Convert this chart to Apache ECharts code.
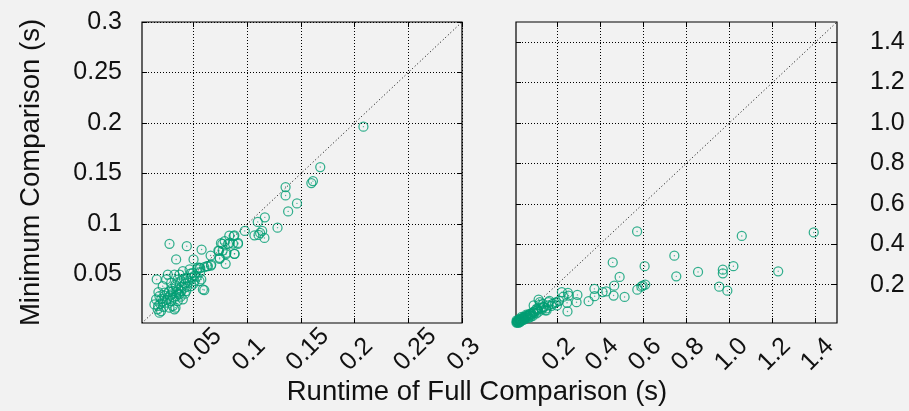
<!DOCTYPE html>
<html><head><meta charset="utf-8">
<script src="https://cdn.jsdelivr.net/npm/echarts@6/dist/echarts.min.js"></script>
<style>html,body{margin:0;padding:0;background:#f2f2f2}#c{width:909px;height:411px}</style>
</head><body><div id="c"></div>
<script>
// ---- data ----
const leftX = [0.2082,0.168,0.1612,0.1597,0.1357,0.1357,0.1463,0.1381,0.1164,0.1098,0.1282,0.1139,0.116,0.112,0.1067,0.1105,0.0977,0.088,0.0833,0.0914,0.0867,0.0821,0.0755,0.0737,0.0771,0.088,0.0802,0.0743,0.0799,0.0659,0.0662,0.0575,0.0437,0.0276,0.0338,0.05,0.06,0.0563,0.0535,0.06,0.0556,0.0157,0.0173,0.0322,0.0332,0.0136,0.0166,0.0182,0.079,0.0624,0.0369,
0.0245,0.0292,0.0338,0.0385,0.0432,0.0463,0.0494,0.054,0.0572,0.0587,0.0229,0.026,0.0213,0.0292,0.0338,0.0385,0.0416,0.0307,0.0353,0.0182,0.0307,0.0276,0.0198,0.0447,0.0509,0.04,0.0322,0.026,0.0213,0.0151,0.0369,0.0432,0.0478,0.0292,0.0245,0.04,0.0836,0.0874,0.0914,0.0883,0.0806,0.0556,0.0634,0.0665,0.0768,0.0731,0.0743,
0.019,0.022,0.025,0.028,0.031,0.034,0.036,0.039,0.042,0.045,0.048,0.051,0.027,0.03,0.033,0.036,0.041,0.044,0.047,0.023,0.017,0.02,0.035,0.038,0.042,0.053,0.056,0.05];
const leftY = [0.1964,0.1564,0.1425,0.1406,0.1366,0.1283,0.1204,0.1125,0.1066,0.1021,0.0964,0.0932,0.0862,0.0912,0.0888,0.0892,0.0932,0.0888,0.0885,0.0803,0.0806,0.0803,0.081,0.0734,0.0737,0.0705,0.0701,0.0655,0.0606,0.0688,0.0589,0.0747,0.078,0.0804,0.0649,0.0649,0.0573,0.0563,0.0553,0.0346,0.0434,0.0451,0.0326,0.0155,0.0172,0.0204,0.0155,0.0122,0.083,0.0582,0.05,
0.0451,0.0419,0.0385,0.0434,0.0468,0.055,0.0517,0.0567,0.0451,0.0352,0.032,0.027,0.0237,0.0237,0.0286,0.0336,0.0369,0.0336,0.0237,0.0286,0.0188,0.0172,0.0138,0.0419,0.0434,0.0533,0.05,0.05,0.0385,0.0254,0.0303,0.0336,0.0385,0.0303,0.0221,0.0254,0.0813,0.0879,0.0813,0.0705,0.0715,0.0567,0.0582,0.0599,0.0803,0.0737,0.0665,
0.021,0.018,0.025,0.029,0.027,0.033,0.035,0.038,0.041,0.044,0.047,0.049,0.033,0.036,0.04,0.031,0.046,0.038,0.051,0.029,0.019,0.026,0.045,0.028,0.031,0.048,0.052,0.041];

const rightX = [1.392,1.058,0.572,0.745,1.227,1.019,0.970,0.970,0.953,0.991,0.855,0.754,0.607,0.610,0.598,0.592,0.573,0.514,0.491,0.459,0.466,0.463,0.429,0.412,0.374,0.375,0.347,0.295,0.291,0.251,0.254,0.247,0.223,0.249,0.198,0.180,0.152,0.160,0.121,0.137,0.105,0.090,0.075,0.059,0.044,0.028,0.013,0.115,0.161,0.200,0.092,0.146,
0.012,0.014,0.016,0.018,0.02,0.022,0.025,0.027,0.03,0.032,0.035,0.038,0.04,0.043,0.047,0.05,0.055,0.06,0.065,0.07,0.075,0.08,0.085,0.09,0.095,0.1,0.11,0.115,0.125,0.13,0.14,0.15,0.017,0.021,0.024,0.028,0.033,0.036,0.045,0.052,0.058,0.068,0.078,0.088,0.105,0.12,0.135,0.165,0.175,0.19,0.21,0.23];
const rightY = [0.458,0.441,0.463,0.343,0.266,0.291,0.274,0.256,0.190,0.170,0.263,0.241,0.291,0.200,0.195,0.190,0.175,0.139,0.238,0.310,0.195,0.146,0.166,0.163,0.179,0.143,0.118,0.149,0.113,0.159,0.146,0.110,0.163,0.067,0.113,0.105,0.072,0.097,0.113,0.089,0.080,0.064,0.056,0.047,0.039,0.031,0.023,0.126,0.113,0.097,0.097,0.072,
0.012,0.015,0.013,0.018,0.016,0.02,0.019,0.024,0.022,0.028,0.026,0.031,0.03,0.035,0.033,0.04,0.038,0.045,0.042,0.05,0.047,0.056,0.052,0.064,0.06,0.07,0.075,0.066,0.085,0.078,0.09,0.082,0.022,0.011,0.028,0.014,0.019,0.04,0.025,0.03,0.052,0.035,0.04,0.045,0.058,0.1,0.105,0.12,0.095,0.11,0.12,0.14];

const leftRange = [0.002, 0.3];
const rightRange = [0.01, 1.5];
const leftTicks = [0.05, 0.1, 0.15, 0.2, 0.25, 0.3];
const rightTicks = [0.2, 0.4, 0.6, 0.8, 1.0, 1.2, 1.4];
const xTitle = 'Runtime of Full Comparison (s)';
const yTitle = 'Minimum Comparison (s)';

// ---- chart ----
const FONT = '"Liberation Sans", Arial, sans-serif';
const GREEN = '#009e73';
const zip = (a, b) => a.map((v, i) => [v, b[i]]);

function mkAxis(gi, pos, range, ticks, label, split, fmt, extra) {
  return {
    type: 'value', gridIndex: gi, position: pos, min: range[0], max: range[1],
    axisLine: {show: false},
    axisTick: {show: true, inside: true, length: 5, customValues: ticks, lineStyle: {color: '#000', width: 1}},
    axisLabel: label ? Object.assign({show: true, customValues: ticks, formatter: fmt, color: '#111',
      fontFamily: FONT, fontSize: 25, showMinLabel: true, showMaxLabel: true, hideOverlap: false}, extra) : {show: false},
    splitLine: split ? {show: true, lineStyle: {color: '#000', width: 1, type: [1, 2]}} : {show: false}
  };
}
const rotLabel = {rotate: 45, align: 'left', verticalAlign: 'bottom', lineHeight: 29, margin: 54};
const fmtL = v => String(+v.toFixed(2));
const fmtR = v => v.toFixed(1);

function scatter(xi, yi, xs, ys) {
  return [{
    type: 'scatter', xAxisIndex: xi, yAxisIndex: yi, data: zip(xs, ys), symbol: 'circle', symbolSize: 9,
    itemStyle: {color: 'rgba(0,0,0,0)', borderColor: GREEN, borderWidth: 1.25}, silent: true, z: 3
  }, {
    type: 'scatter', xAxisIndex: xi, yAxisIndex: yi, data: zip(xs, ys), symbol: 'circle', symbolSize: 1.4,
    itemStyle: {color: GREEN, opacity: 0.7}, silent: true, z: 4
  }];
}
function diag(xi, yi, r) {
  return {type: 'line', xAxisIndex: xi, yAxisIndex: yi, data: zip(r, r), symbol: 'none', silent: true, z: 2,
    lineStyle: {color: '#000', width: 1, type: [1, 2.5]}};
}

const chart = echarts.init(document.getElementById('c'), null, {renderer: 'canvas'});
chart.setOption({
  backgroundColor: '#f2f2f2',
  animation: false,
  grid: [
    {left: 142, top: 22, width: 320, height: 301, show: true, borderColor: '#000', borderWidth: 1.2, backgroundColor: 'transparent'},
    {left: 516, top: 22, width: 321, height: 301, show: true, borderColor: '#000', borderWidth: 1.2, backgroundColor: 'transparent'}
  ],
  xAxis: [
    mkAxis(0, 'bottom', leftRange, leftTicks, true, true, fmtL, rotLabel),
    mkAxis(0, 'top', leftRange, leftTicks, false, false),
    mkAxis(1, 'bottom', rightRange, rightTicks, true, true, fmtR, rotLabel),
    mkAxis(1, 'top', rightRange, rightTicks, false, false)
  ],
  yAxis: [
    mkAxis(0, 'left', leftRange, leftTicks, true, true, fmtL, {margin: 20}),
    mkAxis(0, 'right', leftRange, leftTicks, false, false),
    mkAxis(1, 'left', rightRange, rightTicks, false, true),
    mkAxis(1, 'right', rightRange, rightTicks, true, false, fmtR, {margin: 33})
  ],
  series: [
    diag(0, 0, leftRange), ...scatter(0, 0, leftX, leftY),
    diag(2, 2, rightRange), ...scatter(2, 2, rightX, rightY)
  ],
  graphic: [
    {type: 'text', x: 31, y: 172.5, rotation: Math.PI / 2,
      style: {text: yTitle, font: '27.5px ' + FONT, fill: '#111', align: 'center', verticalAlign: 'middle'}},
    {type: 'text', x: 477, y: 392,
      style: {text: xTitle, font: '27.5px ' + FONT, fill: '#111', align: 'center', verticalAlign: 'middle'}}
  ]
});
</script></body></html>
